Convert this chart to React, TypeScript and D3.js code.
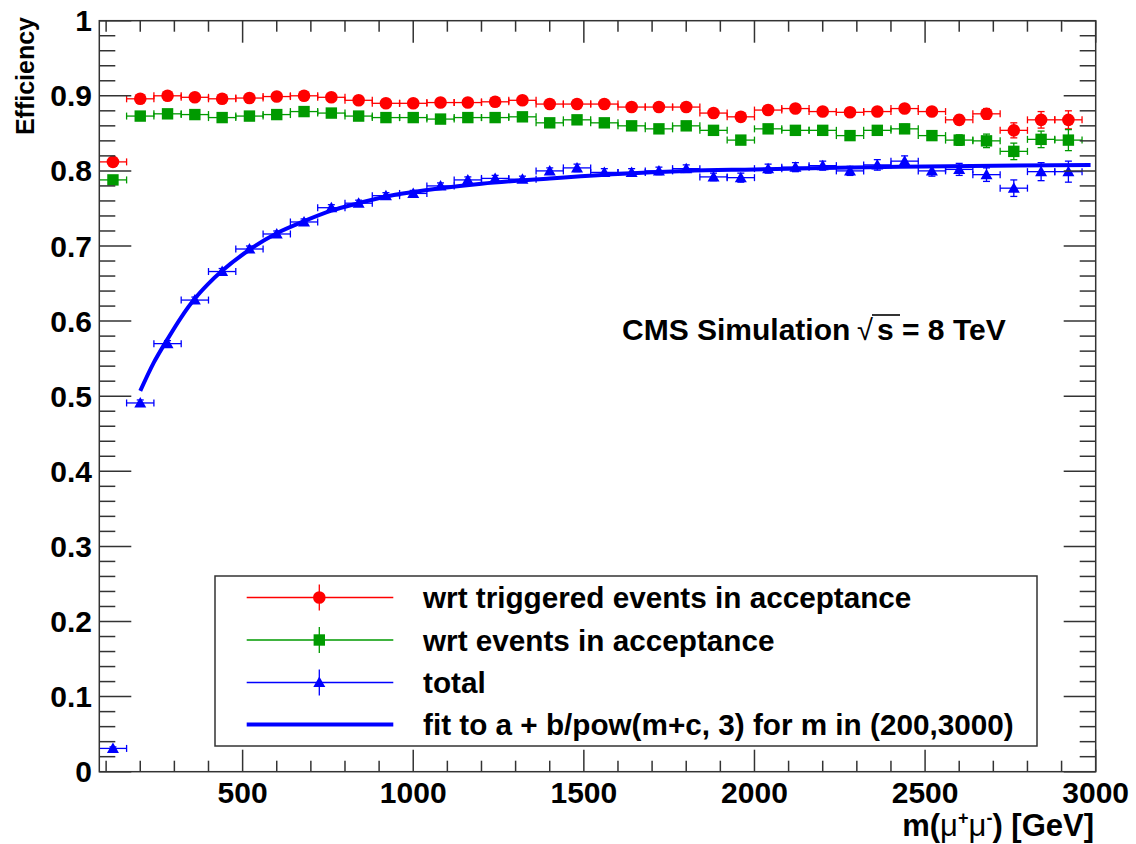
import React from "react";
import * as d3 from "d3";

const massBins = [120, 200, 280, 360, 440, 520, 600, 680, 760, 840, 920, 1000, 1080, 1160, 1240, 1320, 1400, 1480, 1560, 1640, 1720, 1800, 1880, 1960, 2040, 2120, 2200, 2280, 2360, 2440, 2520, 2600, 2680, 2760, 2840, 2920];
const binHalfWidth = 40;

const triggeredEff = [0.812, 0.896, 0.900, 0.898, 0.896, 0.897, 0.899, 0.900, 0.898, 0.894, 0.890, 0.890, 0.891, 0.891, 0.892, 0.894, 0.889, 0.889, 0.889, 0.885, 0.885, 0.885, 0.877, 0.872, 0.881, 0.883, 0.879, 0.878, 0.879, 0.883, 0.879, 0.868, 0.876, 0.854, 0.868, 0.868];
const triggeredErr = [0.003, 0.002, 0.002, 0.002, 0.002, 0.002, 0.002, 0.002, 0.002, 0.002, 0.002, 0.002, 0.002, 0.002, 0.002, 0.002, 0.003, 0.003, 0.003, 0.003, 0.003, 0.003, 0.003, 0.004, 0.004, 0.004, 0.004, 0.004, 0.005, 0.005, 0.005, 0.006, 0.007, 0.010, 0.011, 0.012];

const acceptanceEff = [0.788, 0.873, 0.876, 0.875, 0.871, 0.873, 0.875, 0.879, 0.877, 0.873, 0.871, 0.871, 0.869, 0.871, 0.871, 0.872, 0.864, 0.868, 0.864, 0.860, 0.856, 0.860, 0.854, 0.841, 0.856, 0.854, 0.854, 0.847, 0.854, 0.856, 0.847, 0.841, 0.840, 0.826, 0.842, 0.841];
const acceptanceErr = [0.003, 0.002, 0.002, 0.002, 0.002, 0.002, 0.002, 0.002, 0.002, 0.002, 0.002, 0.002, 0.003, 0.003, 0.003, 0.003, 0.003, 0.003, 0.003, 0.003, 0.004, 0.004, 0.004, 0.004, 0.004, 0.005, 0.005, 0.005, 0.005, 0.006, 0.006, 0.007, 0.009, 0.011, 0.011, 0.014];

const totalEff = [0.031, 0.491, 0.570, 0.628, 0.666, 0.696, 0.716, 0.732, 0.751, 0.757, 0.767, 0.770, 0.780, 0.788, 0.790, 0.789, 0.800, 0.804, 0.798, 0.798, 0.800, 0.803, 0.792, 0.791, 0.803, 0.805, 0.807, 0.800, 0.808, 0.813, 0.800, 0.802, 0.795, 0.777, 0.799, 0.799];
const totalErr = [0.002, 0.004, 0.004, 0.004, 0.004, 0.004, 0.004, 0.004, 0.004, 0.004, 0.004, 0.004, 0.004, 0.004, 0.004, 0.004, 0.004, 0.005, 0.005, 0.005, 0.005, 0.005, 0.005, 0.006, 0.006, 0.006, 0.006, 0.006, 0.007, 0.007, 0.007, 0.008, 0.009, 0.011, 0.012, 0.014];

const fitMass = [200, 240, 280, 320, 360, 400, 440, 520, 600, 680, 760, 840, 920, 1000, 1200, 1400, 1600, 1800, 2000, 2200, 2500, 2985];
const fitEff = [0.507, 0.545, 0.576, 0.605, 0.630, 0.650, 0.667, 0.695, 0.717, 0.733, 0.747, 0.757, 0.766, 0.772, 0.783, 0.790, 0.796, 0.800, 0.802, 0.804, 0.806, 0.808];

const legendLabels = [
  "wrt triggered events in acceptance",
  "wrt events in acceptance",
  "total",
  "fit to a + b/pow(m+c, 3) for m in (200,3000)",
];

const RED = "#ff0000";
const GREEN = "#009a00";
const BLUE = "#0000ff";
const AXIS = "#333333";
const FONT = "'Liberation Sans', Arial, Helvetica, sans-serif";

type Series = { vals: number[]; errs: number[]; color: string; marker: "circle" | "square" | "triangle" };

function Marker({ kind, cx, cy, color }: { kind: string; cx: number; cy: number; color: string }) {
  if (kind === "circle") return <circle cx={cx} cy={cy} r={6.3} fill={color} stroke="none" />;
  if (kind === "square") return <rect x={cx - 5.7} y={cy - 5.7} width={11.4} height={11.4} fill={color} stroke="none" />;
  const s = 6;
  return <path d={`M${cx},${cy - s}L${cx + s},${cy + s * 0.75}L${cx - s},${cy + s * 0.75}Z`} fill={color} stroke="none" />;
}

export default function App() {
  const W = 1136;
  const H = 844;
  const L = 99.3, R = 1095.7, T = 20.7, B = 771.7;
  const x = d3.scaleLinear().domain([80, 3000]).range([L, R]);
  const y = d3.scaleLinear().domain([0, 1]).range([B, T]);

  const xMajor = x.ticks(6);
  const xMinor = x.ticks(30);
  const yMajor = y.ticks(10);
  const yMinor = y.ticks(50);

  const series: Series[] = [
    { vals: triggeredEff, errs: triggeredErr, color: RED, marker: "circle" },
    { vals: acceptanceEff, errs: acceptanceErr, color: GREEN, marker: "square" },
    { vals: totalEff, errs: totalErr, color: BLUE, marker: "triangle" },
  ];

  const fitLine = d3
    .line<number>()
    .x((_, i) => x(fitMass[i]))
    .y((d) => y(d))
    .curve(d3.curveMonotoneX)(fitEff) as string;

  const cap = 3.5;

  const legX = 215, legY = 576, legW = 822, legH = 170;
  const rowY = [597.5, 640, 682.5, 724.5];
  const colors = [RED, GREEN, BLUE, BLUE];
  const markers = ["circle", "square", "triangle", "none"];

  return (
    <svg width={W} height={H} style={{ position: "absolute", left: 0, top: 0, background: "#fff" }} fontFamily={FONT}>
      <rect x={0} y={0} width={W} height={H} fill="#fff" />
      {/* data */}
      <g>
        {series.map((s, si) => (
          <g key={si} stroke={s.color} strokeWidth={1.3} fill="none">
            {massBins.map((mb, i) => {
              const cx = x(mb);
              const cy = y(s.vals[i]);
              const x0 = Math.max(L, x(mb - binHalfWidth));
              const x1 = x(mb + binHalfWidth);
              const y0 = y(s.vals[i] - s.errs[i]);
              const y1 = y(s.vals[i] + s.errs[i]);
              return (
                <g key={i}>
                  <line x1={x0} x2={x1} y1={cy} y2={cy} />
                  {x0 > L + 0.5 && <line x1={x0} x2={x0} y1={cy - cap} y2={cy + cap} />}
                  <line x1={x1} x2={x1} y1={cy - cap} y2={cy + cap} />
                  <line x1={cx} x2={cx} y1={y0} y2={y1} />
                  <line x1={cx - cap} x2={cx + cap} y1={y0} y2={y0} />
                  <line x1={cx - cap} x2={cx + cap} y1={y1} y2={y1} />
                </g>
              );
            })}
            {massBins.map((mb, i) => (
              <Marker key={"m" + i} kind={s.marker} cx={x(mb)} cy={y(s.vals[i])} color={s.color} />
            ))}
          </g>
        ))}
        <path d={fitLine} stroke={BLUE} strokeWidth={4} fill="none" />
      </g>

      {/* frame and ticks */}
      <g stroke={AXIS} strokeWidth={1.5} fill="none">
        <rect x={L} y={T} width={R - L} height={B - T} />
        {xMinor.map((t) => (
          <g key={"xm" + t}>
            <line x1={x(t)} x2={x(t)} y1={B} y2={B - (xMajor.includes(t) ? 22 : 11)} />
            <line x1={x(t)} x2={x(t)} y1={T} y2={T + (xMajor.includes(t) ? 22 : 11)} />
          </g>
        ))}
        {yMinor.map((t) => {
          const isMajor = yMajor.some((v) => Math.abs(v - t) < 1e-9);
          return (
            <g key={"ym" + t}>
              <line x1={L} x2={L + (isMajor ? 32 : 16)} y1={y(t)} y2={y(t)} />
              <line x1={R} x2={R - (isMajor ? 32 : 16)} y1={y(t)} y2={y(t)} />
            </g>
          );
        })}
      </g>

      {/* tick labels */}
      <g fontWeight="bold" fontSize={30} fill="#000">
        {xMajor.map((t) => (
          <text key={"xl" + t} x={x(t)} y={803} textAnchor="middle">
            {d3.format("d")(t)}
          </text>
        ))}
        {yMajor.map((t) => (
          <text key={"yl" + t} x={92} y={y(t) + 10.5} textAnchor="end">
            {String(+t.toFixed(1))}
          </text>
        ))}
      </g>

      {/* axis titles */}
      <text transform={`translate(34,17) rotate(-90)`} textAnchor="end" fontWeight="bold" fontSize={25}>
        Efficiency
      </text>
      <text x={1094} y={836} textAnchor="end" fontWeight="bold" fontSize={31}>
        m(<tspan fontWeight="normal">μ</tspan>
        <tspan fontSize={18} dy={-12}>+</tspan>
        <tspan fontWeight="normal" dy={12}>μ</tspan>
        <tspan fontSize={18} dy={-12}>-</tspan>
        <tspan dy={12}>) [GeV]</tspan>
      </text>

      {/* CMS label */}
      <g fontWeight="bold">
        <text x={622} y={340} fontSize={30}>CMS Simulation</text>
        <text x={857} y={340} fontSize={29} fontWeight="normal">√</text>
        <line x1={872} x2={900} y1={315} y2={315} stroke="#000" strokeWidth={1.6} />
        <text x={877} y={340} fontSize={30}>s = 8 TeV</text>
      </g>

      {/* legend */}
      <g>
        <rect x={legX} y={legY} width={legW} height={legH} fill="#fff" stroke={AXIS} strokeWidth={1.5} />
        {legendLabels.map((lab, i) => {
          const cy = rowY[i];
          const c = colors[i];
          return (
            <g key={"lg" + i}>
              {markers[i] === "none" ? (
                <line x1={246.7} x2={393.3} y1={cy} y2={cy} stroke={c} strokeWidth={4} />
              ) : (
                <g stroke={c} strokeWidth={1.3}>
                  <line x1={246.7} x2={393.3} y1={cy} y2={cy} />
                  <line x1={319.3} x2={319.3} y1={cy - 13} y2={cy + 13} />
                  <Marker kind={markers[i]} cx={319.3} cy={cy} color={c} />
                </g>
              )}
              <text x={423} y={cy + 10.5} fontWeight="bold" fontSize={29.7}>
                {lab}
              </text>
            </g>
          );
        })}
      </g>
    </svg>
  );
}
